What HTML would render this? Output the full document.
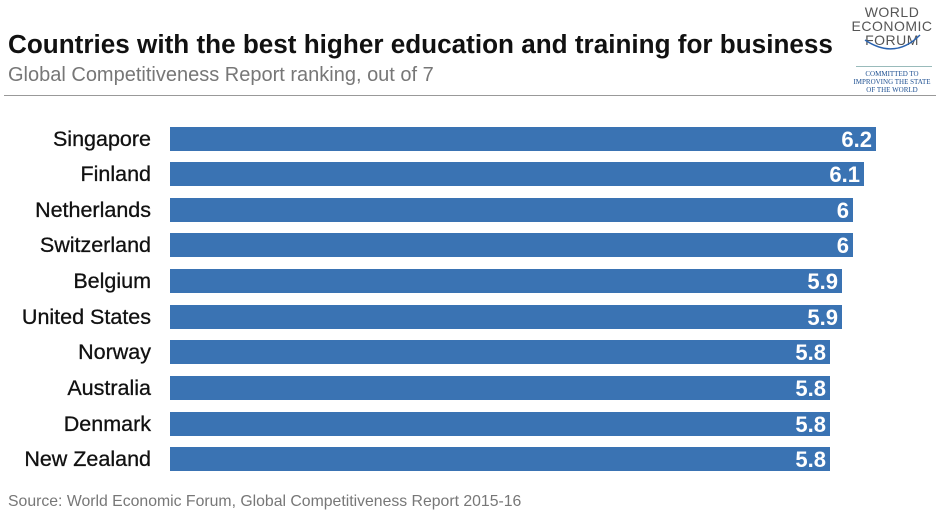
<!DOCTYPE html>
<html><head><style>
body{margin:0;width:940px;height:512px;background:#fff;font-family:"Liberation Sans",sans-serif;position:relative;overflow:hidden}
.t{position:absolute;left:8px;top:29px;font-size:26.1px;font-weight:bold;color:#111;white-space:nowrap}
.s{position:absolute;left:8px;top:64px;font-size:20px;color:#777;white-space:nowrap}
.line{position:absolute;left:4px;top:95px;width:932px;height:1px;background:#999}
.lab{position:absolute;right:789px;font-size:21.5px;color:#111;height:24px;line-height:24px;white-space:nowrap;-webkit-text-stroke:0.3px #111}
.bar{position:absolute;left:170px;height:24px;background:#3a73b3;color:#fff;font-weight:bold;font-size:22px;line-height:25px;text-align:right;box-sizing:border-box;padding-right:4px}
.src{position:absolute;left:8px;top:493px;font-size:15.8px;color:#777;white-space:nowrap}
.logo{position:absolute;left:846px;top:5px;width:92px;text-align:center;color:#555;font-size:14px;line-height:14px;letter-spacing:0.5px}
.logo2{position:absolute;left:850px;top:70px;width:84px;text-align:center;color:#1d4f91;font-family:"Liberation Serif",serif;font-size:7px;line-height:8px}
</style></head><body>
<div class="t">Countries with the best higher education and training for business</div>
<div class="s">Global Competitiveness Report ranking, out of 7</div>
<div class="line"></div>
<div class="logo">WORLD<br>ECONOMIC<br>FORUM</div>
<svg style="position:absolute;left:860px;top:30px" width="70" height="25"><path d="M5 10 Q35 30 60 5" stroke="#2a63b0" stroke-width="1.5" fill="none"/></svg>
<div style="position:absolute;left:856px;top:66px;width:76px;height:1px;background:#9bb"></div>
<div class="logo2">COMMITTED TO<br>IMPROVING THE STATE<br>OF THE WORLD</div>

<div class="lab" style="top:127px">Singapore</div><div class="bar" style="top:127px;width:706px">6.2</div>
<div class="lab" style="top:162px">Finland</div><div class="bar" style="top:162px;width:694px">6.1</div>
<div class="lab" style="top:198px">Netherlands</div><div class="bar" style="top:198px;width:683px">6</div>
<div class="lab" style="top:233px">Switzerland</div><div class="bar" style="top:233px;width:683px">6</div>
<div class="lab" style="top:269px">Belgium</div><div class="bar" style="top:269px;width:672px">5.9</div>
<div class="lab" style="top:305px">United States</div><div class="bar" style="top:305px;width:672px">5.9</div>
<div class="lab" style="top:340px">Norway</div><div class="bar" style="top:340px;width:660px">5.8</div>
<div class="lab" style="top:376px">Australia</div><div class="bar" style="top:376px;width:660px">5.8</div>
<div class="lab" style="top:412px">Denmark</div><div class="bar" style="top:412px;width:660px">5.8</div>
<div class="lab" style="top:447px">New Zealand</div><div class="bar" style="top:447px;width:660px">5.8</div>
<div class="src">Source: World Economic Forum, Global Competitiveness Report 2015-16</div>
</body></html>
